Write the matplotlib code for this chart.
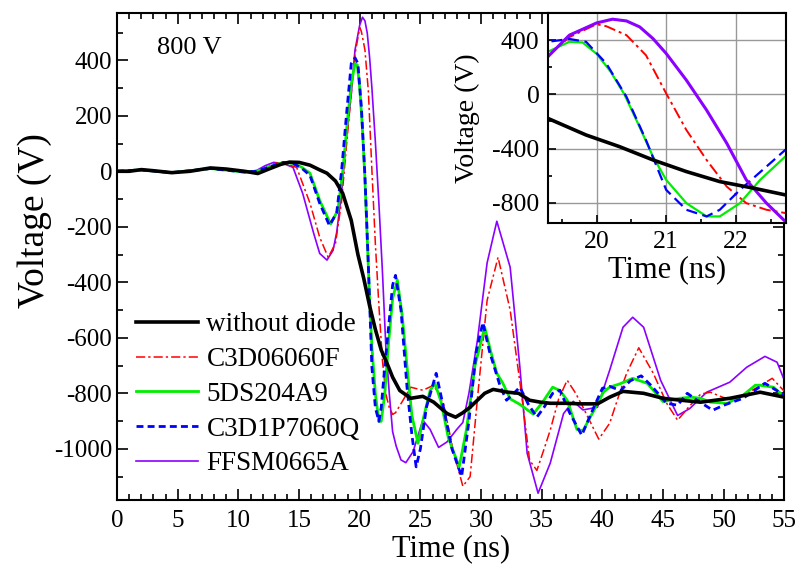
import numpy as np
import matplotlib
matplotlib.use("Agg")
import matplotlib.pyplot as plt
from matplotlib.ticker import MultipleLocator

plt.rcParams['font.family'] = 'serif'
plt.rcParams['font.serif'] = ['Liberation Serif', 'DejaVu Serif']
plt.rcParams['axes.unicode_minus'] = False

# --- data (time in ns, voltage in V) ---
t_nodiode = [0, 1, 2, 3, 4.5, 6, 7.7, 9, 10.5, 11.6, 12.5, 13.5, 14.2, 15.0, 15.9, 16.7,
             17.3, 18.0, 18.6, 19.3, 19.85, 20.33, 20.81, 21.29, 21.77, 22.25, 22.71, 23.3,
             24.2, 25.2, 26.1, 27.2, 27.9, 28.5, 29.1, 29.7, 30.3, 31.0, 32.2, 33.1, 34.0,
             34.9, 35.7, 37.0, 38.2, 39.6, 40.6, 41.7, 43.4, 45.0, 46.5, 48.1, 50.5, 52.0,
             53.0, 54.0, 55.0]
v_nodiode = [0, 0, 6, 2, -5, 0, 12, 8, 0, -8, 8, 25, 33, 32, 22, 5,
             -7, -35, -80, -177, -300, -386, -484, -570, -644, -692, -742, -790,
             -818, -811, -832, -873, -886, -870, -850, -825, -800, -786, -796, -800, -825,
             -832, -836, -836, -838, -838, -814, -793, -800, -818, -825, -832, -818, -805,
             -796, -805, -814]

t_c3d06 = [0, 2, 4.5, 7.7, 10.5, 11.5, 12.2, 13.1, 14.0, 14.8, 15.9, 16.7, 17.4, 18.0,
           18.5, 18.9, 19.3, 19.6, 20.0, 20.14, 20.43, 20.71, 21.0, 21.29, 21.58, 21.87,
           22.15, 22.44, 22.71, 22.95, 23.5, 24.2, 25.2, 26.1, 26.9, 27.7, 28.5, 29.1,
           29.7, 30.5, 31.4, 32.4, 33.4, 34.0, 34.6, 35.2, 35.7, 36.4, 37.1, 37.8, 38.4,
           39.7, 40.6, 41.5, 42.0, 43.0, 44.2, 45.3, 46.2, 47.2, 48.1, 48.9, 49.9, 50.8,
           52.8, 54.0, 55.0]
v_c3d06 = [0, 5, -5, 10, -3, 0, 12, 30, 25, 14, -115, -238, -310, -260,
           -110, 90, 280, 420, 518, 503, 437, 289, 7, -263, -484, -681,
           -803, -852, -876, -870, -830, -778, -789, -771, -836, -1005, -1135, -1100,
           -820, -465, -310, -500, -825, -1041, -1078, -1000, -933, -820, -753, -800, -850,
           -965, -908, -789, -728, -636, -728, -836, -897, -845, -803, -796, -814, -825,
           -778, -746, -793]

t_5ds = [0, 2, 4.5, 7.7, 10.5, 11.5, 12.5, 13.7, 14.5, 15.2, 15.9, 16.7, 17.6, 18.2,
         18.6, 19.0, 19.3, 19.61, 19.8, 20.0, 20.2, 20.4, 20.6, 20.81, 21.0, 21.29, 21.58,
         21.77, 22.06, 22.35, 22.71, 23.1, 23.5, 23.9, 24.3, 24.8, 25.3, 25.8, 26.2, 26.7,
         27.3, 28.2, 28.8, 29.5, 30.3, 30.8, 31.3, 31.8, 32.4, 33.2, 34.3, 35.1, 35.9,
         36.5, 37.1, 37.9, 38.4, 39.2, 40.1, 40.6, 41.5, 42.5, 43.7, 44.2, 45.0, 46.4,
         47.3, 48.1, 48.9, 50.3, 51.6, 52.6, 53.0, 54.1, 55.0]
v_5ds = [0, 5, -5, 10, -3, 0, 15, 32, 28, 15, -7, -105, -190, -140,
         0, 190, 314, 388, 383, 300, 170, 0, -220, -459, -631, -803, -901,
         -901, -803, -631, -459, -392, -520, -705, -880, -980, -880, -790, -764, -830,
         -960, -1065, -930, -700, -562, -650, -728, -764, -820, -840, -875, -830, -778,
         -790, -825, -930, -935, -870, -795, -778, -765, -746, -764, -789, -830, -818,
         -814, -818, -832, -836, -807, -771, -771, -778, -812]

t_c3d1p = [0, 2, 4.5, 7.7, 10.5, 11.5, 12.5, 13.7, 14.5, 15.2, 15.9, 16.7, 17.5, 18.1,
           18.5, 18.9, 19.3, 19.61, 19.85, 20.14, 20.43, 20.71, 21.0, 21.29, 21.58, 21.77,
           22.06, 22.44, 22.71, 22.95, 23.4, 23.9, 24.3, 24.65, 25.0, 25.5, 26.3, 26.9,
           27.6, 28.4, 29.0, 29.6, 30.15, 30.7, 31.6, 32.1, 32.7, 33.2, 33.9, 34.6, 35.2,
           35.9, 36.5, 37.3, 38.3, 39.2, 40.0, 40.6, 41.5, 42.3, 43.2, 44.0, 45.3, 46.2,
           47.0, 47.8, 49.1, 50.0, 51.6, 53.4, 55.0]
v_c3d1p = [0, 5, -5, 10, -3, 0, 15, 32, 28, 12, -15, -115, -195, -150,
           0, 200, 388, 409, 388, 228, -18, -337, -705, -852, -901, -852,
           -705, -533, -410, -375, -500, -780, -950, -1065, -1000, -850, -728, -850,
           -1000, -1100, -900, -650, -545, -650, -778, -825, -800, -778, -840, -886, -850,
           -800, -789, -870, -951, -860, -782, -775, -790, -755, -737, -771, -836, -843,
           -800, -825, -861, -843, -818, -764, -807]

t_ffsm = [0, 2, 4.5, 7.7, 10.5, 11.5, 12.2, 12.9, 13.7, 14.5, 15.3, 16.2, 16.7, 17.3,
          17.8, 18.1, 18.5, 18.9, 19.3, 19.61, 20.0, 20.23, 20.43, 20.62, 20.81, 21.0,
          21.29, 21.58, 21.87, 22.15, 22.44, 22.71, 23.0, 23.4, 23.8, 24.4, 25.2, 25.8,
          26.5, 27.2, 28.0, 28.5, 29.0, 29.7, 30.5, 31.3, 32.4, 33.2, 33.8, 34.7, 35.7,
          36.8, 37.6, 38.4, 39.6, 40.6, 41.7, 42.5, 43.4, 44.8, 46.2, 47.2, 48.6, 50.5,
          51.9, 53.4, 54.4, 55.0]
v_ffsm = [0, 5, -5, 10, -3, 3, 20, 32, 28, 14, -80, -223, -296, -320,
          -285, -220, -80, 120, 277, 437, 527, 555, 542, 498, 412, 302,
          105, -116, -361, -631, -803, -938, -990, -1040, -1050, -1010, -897, -930,
          -995, -975, -930, -905, -800, -609, -330, -180, -346, -706, -1016, -1160, -1052,
          -873, -829, -860, -850, -717, -562, -526, -562, -753, -880, -855, -796, -760,
          -706, -667, -688, -753]

labels = ['without diode', 'C3D06060F', '5DS204A9', 'C3D1P7060Q', 'FFSM0665A']

fig = plt.figure(figsize=(8.02, 5.69), dpi=100)
ax = fig.add_axes([0.146, 0.121, 0.832, 0.856])

red_ls = (0, (6, 2, 1.5, 2))
ax.plot(t_c3d06, v_c3d06, color='#ff0000', lw=1.1, ls=red_ls, label=labels[1], zorder=3)
ax.plot(t_5ds, v_5ds, color='#00ee00', lw=2.0, label=labels[2], zorder=4)
ax.plot(t_c3d1p, v_c3d1p, color='#0000ff', lw=2.0, ls=(0, (2.5, 1.5)), label=labels[3], zorder=5)
ax.plot(t_ffsm, v_ffsm, color='#8b00ff', lw=1.2, label=labels[4], zorder=2)
ax.plot(t_nodiode, v_nodiode, color='black', lw=2.6, label=labels[0], zorder=6)

ax.set_xlim(0, 55)
ax.set_ylim(-1185, 570)
ax.xaxis.set_major_locator(MultipleLocator(5))
ax.xaxis.set_minor_locator(MultipleLocator(1))
ax.yaxis.set_major_locator(MultipleLocator(200))
ax.yaxis.set_minor_locator(MultipleLocator(100))
ax.tick_params(which='both', direction='in', top=True, right=True, labelsize=18, width=1.2)
ax.tick_params(which='major', length=8)
ax.tick_params(which='minor', length=4)
ax.tick_params(axis='x', pad=7)
ax.set_yticks(np.arange(-1000, 401, 200))
for s in ax.spines.values():
    s.set_linewidth(1.5)
ax.set_xlabel('Time (ns)', fontsize=22, labelpad=2)
ax.set_ylabel('Voltage (V)', fontsize=27)
ax.yaxis.set_label_coords(-0.097, 0.575)
ax.text(0.06, 0.928, '800 V', transform=ax.transAxes, fontsize=19, va='center')

h, l = ax.get_legend_handles_labels()
order = [4, 0, 1, 2, 3]
ax.legend([h[i] for i in order], [l[i] for i in order], loc='lower left',
          bbox_to_anchor=(0.0, 0.01), frameon=False, fontsize=19.5,
          handlelength=2.3, labelspacing=0.36, handletextpad=0.3, borderaxespad=0.3)

# inset
ins = fig.add_axes([0.683, 0.608, 0.297, 0.369])
ins.plot(t_c3d06, v_c3d06, color='#ff0000', lw=1.4, ls=red_ls)
ins.plot(t_5ds, v_5ds, color='#00ee00', lw=1.6)
ins.plot(t_c3d1p, v_c3d1p, color='#0000ff', lw=1.6, ls=(0, (5, 2.5)))
ins.plot(t_ffsm, v_ffsm, color='#8b00ff', lw=2.2)
ins.plot(t_nodiode, v_nodiode, color='black', lw=2.6)
ins.set_xlim(19.3, 22.72)
ins.set_ylim(-950, 600)
ins.set_xticks([20, 21, 22])
ins.set_yticks([-800, -400, 0, 400])
ins.xaxis.set_minor_locator(MultipleLocator(0.5))
ins.yaxis.set_minor_locator(MultipleLocator(200))
ins.grid(True, which='major', color='#999999', lw=1.0)
ins.set_axisbelow(True)
ins.tick_params(which='both', direction='in', labelsize=18.5, width=1.2)
ins.tick_params(which='major', length=6)
ins.tick_params(which='minor', length=3)
ins.tick_params(axis='x', pad=6)
ins.tick_params(axis='y', pad=6)
for s in ins.spines.values():
    s.set_linewidth(1.5)
ins.set_xlabel('Time (ns)', fontsize=22, labelpad=1)
ins.set_ylabel('Voltage (V)', fontsize=20, labelpad=9)

fig.savefig('out.png', dpi=100)
